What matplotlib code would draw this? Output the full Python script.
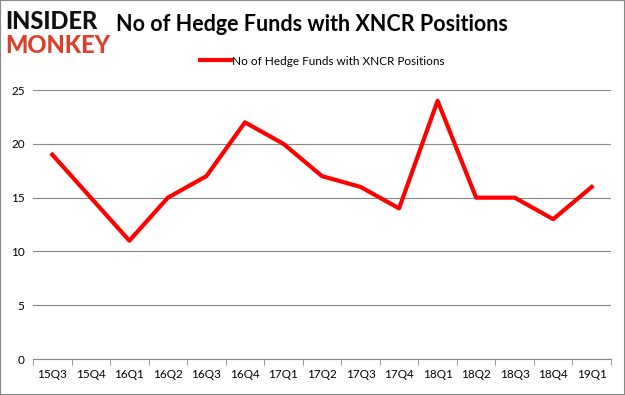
import numpy as np
import matplotlib.pyplot as plt
from matplotlib.patches import Rectangle

# Data
quarters = ['15Q3', '15Q4', '16Q1', '16Q2', '16Q3', '16Q4', '17Q1', '17Q2',
            '17Q3', '17Q4', '18Q1', '18Q2', '18Q3', '18Q4', '19Q1']
funds = [19, 15, 11, 15, 17, 22, 20, 17, 16, 14, 24, 15, 15, 13, 16]
yticks = [0, 5, 10, 15, 20, 25]

plt.rcParams['font.family'] = ['Lato', 'DejaVu Sans']

fig = plt.figure(figsize=(6.25, 3.95), dpi=100)
ax = fig.add_axes([0.0528, 0.091, 0.9248, 0.681])

x = np.arange(len(quarters))
ax.plot(x, funds, color='#ff0000', linewidth=3,
        label='No of Hedge Funds with XNCR Positions')

ax.set_xlim(-0.5, len(quarters) - 0.5)
ax.set_ylim(0, 25)
ax.set_yticks(yticks)
ax.set_xticks(x)
ax.set_xticklabels(quarters, fontsize=8.5)
ax.set_xticks(np.arange(-0.5, len(quarters)), minor=True)
ax.tick_params(axis='x', which='major', length=0, pad=7)
ax.tick_params(axis='x', which='minor', length=4, color='#888888')
ax.tick_params(axis='y', length=0, labelsize=8.5, pad=6)
ax.grid(axis='y', color='#888888', linewidth=0.8)
ax.set_axisbelow(True)
for s in ['top', 'right', 'left']:
    ax.spines[s].set_visible(False)
ax.spines['bottom'].set_color('#888888')

ax.legend(loc='center', bbox_to_anchor=(0.5, 1.108), frameon=False,
          fontsize=8.5, handlelength=2.6, handletextpad=0.1)

# Title and logo
fig.text(0.186, 0.937, 'No of Hedge Funds with XNCR Positions', fontsize=15.5,
         fontweight='bold', va='center', ha='left')
fig.text(0.008, 0.945, 'INSIDER', fontsize=17, fontweight='black',
         color='#111111', va='center', ha='left')
fig.text(0.008, 0.885, 'MONKEY', fontsize=17, fontweight='black',
         color='#d9412b', va='center', ha='left')

fig.patches.append(Rectangle((0, 0), 1, 1, transform=fig.transFigure,
                             fill=False, edgecolor='#888888', linewidth=1.5))

plt.savefig('out.png', dpi=100)
